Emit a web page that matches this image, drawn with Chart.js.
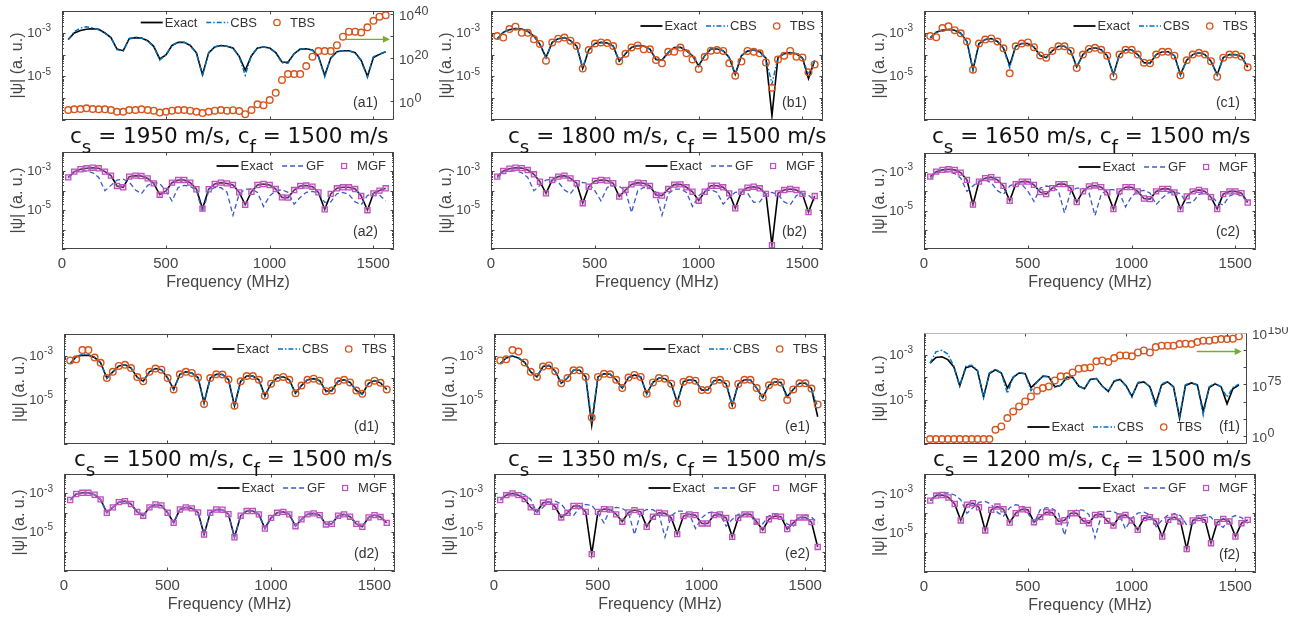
<!DOCTYPE html>
<html>
<head>
<meta charset="utf-8">
<title>|ψ| versus frequency</title>
<script src="https://cdn.jsdelivr.net/npm/chart.js@4.4.1/dist/chart.umd.min.js"></script>
<style>
  html, body { margin: 0; padding: 0; background: #fff; }
  body { position: relative; width: 1296px; height: 617px; overflow: hidden; font-family: "Liberation Sans", Arial, sans-serif; }
  canvas { position: absolute; }
  .case-title { position: absolute; font-family: "DejaVu Sans", sans-serif; font-size: 21.5px; line-height: 1; color: #111; white-space: nowrap; }
  .case-title sub { font-size: 0.85em; vertical-align: -0.52em; line-height: 0; }
</style>
</head>
<body>
<script>
// frequency samples (MHz)
const freq = [30, 59, 89, 118, 148, 177, 207, 236, 265, 295, 324, 354, 383, 413, 442, 471, 501, 530, 560, 589,
  618, 648, 677, 707, 736, 766, 795, 824, 854, 883, 913, 942, 971, 1001, 1030, 1060, 1089, 1119, 1148, 1177,
  1207, 1236, 1266, 1295, 1325, 1354, 1383, 1413, 1442, 1472, 1501, 1530, 1560];
const xTicks = [0, 500, 1000, 1500];
const leftExpLabels = [-3, -5];
const solidSpeed = [1950, 1800, 1650, 1500, 1350, 1200];
const fluidSpeed = 1500;

// all values below are log10(|psi|)
// case a : cs = 1950
const exactA = [-3.31, -3.01, -2.89, -2.84, -2.81, -2.84, -3.01, -3.22, -3.75, -3.82, -3.27, -3.22, -3.24, -3.36, -3.62, -4.2, -4.01, -3.58, -3.44, -3.44,
  -3.58, -3.92, -4.92, -3.92, -3.65, -3.58, -3.62, -3.70, -4.08, -4.72, -4.05, -3.70, -3.65, -3.70, -3.91, -4.34, -4.35, -3.96, -3.75, -3.73,
  -3.79, -4.08, -4.96, -4.16, -3.87, -3.82, -3.82, -3.91, -4.27, -5.0, -4.13, -3.99, -3.87];
const cbsA = [-3.31, -2.95, -2.78, -2.72, -2.78, -2.86, -3.02, -3.22, -3.77, -3.84, -3.26, -3.2, -3.24, -3.38, -3.62, -4.25, -4.0, -3.57, -3.43, -3.44,
  -3.58, -3.95, -4.98, -3.9, -3.64, -3.58, -3.62, -3.71, -4.1, -4.95, -4.03, -3.7, -3.65, -3.7, -3.93, -4.38, -4.4, -3.95, -3.75, -3.72,
  -3.8, -4.1, -5.02, -4.14, -3.86, -3.82, -3.83, -3.93, -4.3, -5.05, -4.1, -3.97, -3.87];
// TBS of case a is read on the right axis
const tbsA = [-4.1, -3.8, -3.65, -3.3, -3.65, -3.8, -3.8, -4.1, -4.9, -4.9, -4.1, -4.1, -3.8, -4.1, -4.4, -5.3, -4.9, -4.4, -4.1, -4.1,
  -4.4, -4.9, -5.5, -4.9, -4.4, -4.1, -4.4, -4.2, -4.6, -6.0, -4.1, -1.5, -1.9, 0.5, 3.8, 9.7, 12.4, 12.4, 12.4, 16.1,
  20.4, 23, 23, 23, 25.7, 29.6, 31.9, 31.9, 31.5, 33.9, 36.9, 38.8, 39.5];

// case b : cs = 1800
const exactB = [-3.27, -2.98, -2.86, -2.81, -2.83, -2.93, -3.15, -3.53, -4.13, -3.44, -3.27, -3.22, -3.36, -3.61, -4.64, -3.79, -3.49, -3.44, -3.47, -3.61,
  -4.30, -3.96, -3.67, -3.58, -3.61, -3.75, -4.22, -4.25, -3.91, -3.68, -3.67, -3.82, -4.05, -4.51, -4.05, -3.74, -3.74, -3.82, -4.13, -4.90,
  -4.05, -3.84, -3.79, -3.87, -4.16, -6.8, -4.13, -3.96, -3.91, -3.96, -4.16, -5.1, -4.27];
const cbsB = [-3.27, -2.97, -2.84, -2.8, -2.83, -2.93, -3.16, -3.55, -4.15, -3.44, -3.27, -3.22, -3.36, -3.62, -4.6, -3.79, -3.49, -3.44, -3.47, -3.62,
  -4.32, -3.95, -3.67, -3.58, -3.61, -3.76, -4.22, -4.27, -3.9, -3.68, -3.67, -3.82, -4.07, -4.55, -4.04, -3.74, -3.74, -3.83, -4.15, -4.93,
  -4.05, -3.84, -3.79, -3.88, -4.18, -5.35, -4.12, -3.96, -3.91, -3.97, -4.18, -4.9, -4.27];
const tbsB = [-3.15, -3.22, -2.83, -2.72, -3.0, -3.0, -3.3, -3.51, -4.28, -3.44, -3.27, -3.22, -3.36, -3.61, -4.64, -3.79, -3.49, -3.44, -3.47, -3.61,
  -4.30, -3.96, -3.67, -3.58, -3.76, -3.76, -4.25, -4.40, -3.87, -3.87, -3.68, -3.94, -4.22, -4.66, -4.10, -3.82, -3.79, -3.83, -4.40, -4.97,
  -4.32, -3.83, -3.87, -3.94, -4.36, -5.52, -4.22, -4.05, -3.83, -4.10, -4.13, -4.81, -4.45];

// case c : cs = 1650
const exactC = [-3.23, -2.97, -2.88, -2.85, -2.88, -3.02, -3.40, -4.69, -3.49, -3.31, -3.26, -3.40, -3.71, -4.49, -3.62, -3.49, -3.49, -3.66, -4.04, -4.14,
  -3.83, -3.62, -3.62, -3.83, -4.56, -4.0, -3.74, -3.69, -3.78, -4.05, -4.92, -4.0, -3.78, -3.78, -4.0, -4.37, -4.40, -4.0, -3.87, -3.87,
  -4.05, -4.92, -4.26, -4.0, -3.92, -4.0, -4.30, -4.92, -4.14, -4.0, -4.0, -4.09, -4.58];
const cbsC = [-3.23, -2.97, -2.86, -2.84, -2.88, -3.02, -3.42, -4.72, -3.49, -3.31, -3.26, -3.40, -3.72, -4.6, -3.62, -3.49, -3.49, -3.66, -4.05, -4.14,
  -3.83, -3.62, -3.62, -3.84, -4.6, -4.0, -3.74, -3.69, -3.78, -4.06, -4.95, -4.0, -3.78, -3.78, -4.0, -4.38, -4.40, -4.0, -3.87, -3.87,
  -4.05, -4.95, -4.26, -4.0, -3.92, -4.0, -4.31, -4.95, -4.14, -4.0, -4.0, -4.09, -4.6];
const tbsC = [-3.15, -3.2, -2.78, -2.70, -2.88, -3.02, -3.40, -4.69, -3.49, -3.31, -3.26, -3.40, -3.71, -4.86, -3.62, -3.49, -3.44, -3.66, -4.04, -4.14,
  -3.83, -3.62, -3.62, -3.83, -4.62, -4.0, -3.74, -3.69, -3.78, -4.05, -5.0, -4.0, -3.78, -3.78, -4.0, -4.37, -4.40, -4.0, -3.87, -3.87,
  -4.05, -4.95, -4.26, -4.0, -3.92, -4.0, -4.30, -5.02, -4.14, -4.0, -4.0, -4.09, -4.58];

// case d : cs = cf = 1500 (also the plain Green's function curve)
const exactD = [-3.34, -3.03, -2.97, -2.97, -3.07, -3.31, -4.0, -3.72, -3.45, -3.40, -3.55, -3.96, -4.15, -3.72, -3.57, -3.62, -4.0, -4.52, -3.83, -3.72,
  -3.77, -3.98, -5.12, -4.0, -3.83, -3.84, -4.07, -5.26, -4.15, -3.91, -3.91, -4.08, -4.81, -4.26, -4.0, -3.95, -4.08, -4.69, -4.34, -4.08,
  -4.03, -4.12, -4.60, -4.57, -4.15, -4.08, -4.2, -4.57, -4.72, -4.24, -4.12, -4.22, -4.52];
const cbsD = [-3.34, -3.02, -2.92, -2.93, -3.07, -3.31, -4.02, -3.72, -3.45, -3.40, -3.55, -3.97, -4.16, -3.72, -3.57, -3.62, -4.02, -4.55, -3.83, -3.72,
  -3.77, -3.99, -5.15, -4.0, -3.83, -3.84, -4.08, -5.28, -4.15, -3.91, -3.91, -4.09, -4.85, -4.26, -4.0, -3.95, -4.09, -4.72, -4.34, -4.08,
  -4.03, -4.13, -4.63, -4.6, -4.15, -4.08, -4.21, -4.6, -4.75, -4.24, -4.12, -4.22, -4.52];
const tbsD = [-3.2, -3.15, -2.73, -2.73, -3.07, -3.31, -4.0, -3.72, -3.45, -3.40, -3.55, -3.96, -4.15, -3.72, -3.57, -3.62, -4.0, -4.52, -3.83, -3.72,
  -3.77, -3.98, -5.18, -4.0, -3.83, -3.84, -4.07, -5.26, -4.15, -3.91, -3.91, -4.08, -4.81, -4.26, -4.0, -3.95, -4.08, -4.69, -4.34, -4.08,
  -4.03, -4.12, -4.60, -4.57, -4.15, -4.08, -4.2, -4.57, -4.72, -4.24, -4.12, -4.22, -4.52];

// case e : cs = 1350
const exactE = [-3.34, -3.09, -3.0, -3.09, -3.29, -3.72, -3.95, -3.48, -3.43, -3.69, -4.24, -4.0, -3.65, -3.65, -3.95, -6.13, -3.95, -3.81, -3.83, -4.08,
  -4.46, -3.98, -3.86, -3.95, -4.72, -4.20, -4.0, -4.03, -4.26, -5.10, -4.17, -4.08, -4.12, -4.55, -4.55, -4.12, -4.08, -4.27, -5.24, -4.27,
  -4.08, -4.08, -4.46, -4.89, -4.33, -4.17, -4.2, -4.84, -4.52, -4.24, -4.24, -4.48, -5.76];
const cbsE = [-3.34, -3.08, -2.98, -3.08, -3.29, -3.72, -3.96, -3.48, -3.43, -3.7, -4.26, -4.0, -3.65, -3.65, -3.96, -5.9, -3.95, -3.81, -3.83, -4.09,
  -4.48, -3.98, -3.86, -3.95, -4.75, -4.20, -4.0, -4.03, -4.27, -5.12, -4.17, -4.08, -4.12, -4.56, -4.56, -4.12, -4.08, -4.28, -5.26, -4.27,
  -4.08, -4.08, -4.47, -4.9, -4.33, -4.17, -4.21, -4.95, -4.5, -4.24, -4.22, -4.5, -5.3];
const tbsE = [-3.2, -3.15, -2.73, -2.8, -3.29, -3.72, -3.95, -3.48, -3.43, -3.69, -4.24, -4.0, -3.65, -3.65, -3.95, -5.8, -3.95, -3.81, -3.83, -4.08,
  -4.46, -3.98, -3.86, -3.95, -4.72, -4.20, -4.0, -4.03, -4.26, -5.15, -4.17, -4.08, -4.12, -4.55, -4.55, -4.12, -4.08, -4.27, -5.24, -4.27,
  -4.08, -4.08, -4.46, -4.89, -4.33, -4.17, -4.2, -5.0, -4.52, -4.24, -4.24, -4.48, -5.2];

// case f : cs = 1200
const exactF = [-3.36, -3.10, -3.07, -3.20, -3.53, -4.37, -3.56, -3.49, -3.70, -4.88, -3.83, -3.66, -3.80, -4.48, -4.0, -3.80, -3.83, -4.46, -4.20, -3.95,
  -3.97, -4.42, -4.36, -4.0, -4.0, -4.39, -4.51, -4.09, -4.05, -4.39, -4.63, -4.17, -4.09, -4.37, -4.85, -4.25, -4.20, -4.42, -5.19, -4.34,
  -4.20, -4.42, -5.83, -4.37, -4.25, -4.34, -5.53, -4.46, -4.29, -4.42, -5.19, -4.51, -4.34];
const cbsF = [-3.36, -2.85, -2.78, -2.95, -3.5, -4.4, -3.5, -3.45, -3.68, -4.92, -3.8, -3.62, -3.8, -4.72, -3.98, -3.78, -3.83, -4.6, -4.2, -3.93,
  -3.97, -4.45, -4.36, -3.98, -4.0, -4.4, -4.51, -4.07, -4.05, -4.4, -4.63, -4.15, -4.07, -4.4, -4.9, -4.22, -4.18, -4.45, -5.35, -4.3,
  -4.18, -4.45, -5.75, -4.33, -4.22, -4.35, -5.7, -4.42, -4.27, -4.42, -4.9, -4.45, -4.3];
// TBS of case f is read on the right axis
const tbsF = [-4.7, -4.7, -4.7, -4.7, -4.7, -4.7, -4.7, -4.7, -4.7, -4.7, -4.7, 8.8, 13.7, 25.9, 35.6, 42.9, 50.2, 57.5, 65.8, 69.7,
  72.1, 80.8, 86.7, 86.7, 92.5, 97.9, 98.9, 99.8, 108.6, 110, 107.6, 113.5, 117.3, 117.3, 115.9, 121.7, 124.6, 121.7, 129.5, 131.5,
  131.5, 131.5, 133.9, 134.4, 133.9, 136.8, 138.8, 138.8, 140.2, 141.2, 141.2, 141.7, 145.1];

// GF does not depend on cs: it is the homogeneous curve in every lower panel
const gfAll = exactD;

const caseData = [
  {id: 'a', exact: exactA, cbs: cbsA, tbs: tbsA},
  {id: 'b', exact: exactB, cbs: cbsB, tbs: tbsB},
  {id: 'c', exact: exactC, cbs: cbsC, tbs: tbsC},
  {id: 'd', exact: exactD, cbs: cbsD, tbs: tbsD},
  {id: 'e', exact: exactE, cbs: cbsE, tbs: tbsE},
  {id: 'f', exact: exactF, cbs: cbsF, tbs: tbsF}
];

// layout (page pixels) : plot boxes [left, top, right, bottom] and title origin
const layout = {
  a: {upper: [62, 11, 394, 120], lower: [62, 152, 394, 249], title: [70, 124.5], legend: 'center',
      right: {min: -8.7, max: 41.4, labels: [0, 20, 40], ticks: [0, 10, 20, 30, 40]}, arrow: [1364, 1580, -3.3]},
  b: {upper: [491, 11, 823, 120], lower: [491, 152, 823, 249], title: [508, 124.5]},
  c: {upper: [924, 11, 1256, 120], lower: [924, 153, 1256, 249], title: [932, 124.5]},
  d: {upper: [64, 334, 395, 444], lower: [64, 474, 395, 571], title: [74, 447.8]},
  e: {upper: [494, 334, 826, 444], lower: [494, 474, 826, 571], title: [508, 447.8]},
  f: {upper: [924, 333, 1247, 444], lower: [924, 474, 1256, 572], title: [933, 447.8], legend: 'bottom',
      right: {min: -12, max: 150, labels: [0, 75, 150], ticks: [0, 25, 50, 75, 100, 125, 150]}, arrow: [1351, 1574, -2.83], lightTop: true}
};

const ink = '#454545';
const FONT = '"Liberation Sans", Arial, sans-serif';
const colExact = '#000000', colCBS = '#0072BD', colTBS = '#D95319', colGF = '#3B5BC4', colMGF = '#C04FC0';

function pts(vals) {
  return vals.map((v, i) => ({x: freq[i], y: v}));
}

function drawPow(ctx, exp, x, y, side, big) {
  const baseSize = big ? 13.5 : 13;
  const expSize = big ? 12.5 : 10;
  ctx.font = baseSize + 'px ' + FONT;
  const wb = ctx.measureText('10').width;
  ctx.font = expSize + 'px ' + FONT;
  const we = ctx.measureText(exp).width;
  const x0 = side === 'left' ? x - wb - we - 0.5 : x;
  ctx.textAlign = 'left';
  ctx.textBaseline = 'middle';
  ctx.fillStyle = ink;
  ctx.font = baseSize + 'px ' + FONT;
  ctx.fillText('10', x0, side === 'left' ? y + 0.5 : y + 2.5);
  ctx.font = expSize + 'px ' + FONT;
  ctx.fillText(exp, x0 + wb + 0.5, side === 'left' ? y - 4.5 : y - 2.5);
}

function seg(ctx, x0, y0, x1, y1) {
  ctx.beginPath();
  ctx.moveTo(x0, y0);
  ctx.lineTo(x1, y1);
  ctx.stroke();
}

function drawIcon(ctx, it, x, y) {
  ctx.save();
  if (it.kind === 'line') {
    ctx.strokeStyle = it.color;
    ctx.lineWidth = it.width;
    ctx.setLineDash(it.dash || []);
    seg(ctx, x, y, x + 22, y);
  } else if (it.kind === 'circle') {
    ctx.strokeStyle = it.color;
    ctx.lineWidth = 1.3;
    ctx.beginPath();
    ctx.arc(x + 11, y, 3.2, 0, Math.PI * 2);
    ctx.stroke();
  } else {
    ctx.strokeStyle = it.color;
    ctx.lineWidth = 1.2;
    ctx.strokeRect(x + 8.5, y - 2.5, 5, 5);
  }
  ctx.restore();
}

const decor = {
  id: 'decor',
  afterDatasetsDraw(chart, args, o) {
    const {ctx, chartArea: a, scales} = chart;
    const x = scales.x, y = scales.y, y2 = scales.y2;
    ctx.save();
    ctx.strokeStyle = ink;
    ctx.lineWidth = 1;
    // inward ticks
    xTicks.forEach(v => {
      const px = Math.round(x.getPixelForValue(v)) + 0.5;
      seg(ctx, px, a.bottom, px, a.bottom - 3.5);
      seg(ctx, px, a.top, px, a.top + 3.5);
    });
    for (let d = -7; d <= -2; d++) {
      const py = Math.round(y.getPixelForValue(d)) + 0.5;
      seg(ctx, a.left, py, a.left + 3.5, py);
      if (!y2) seg(ctx, a.right, py, a.right - 3.5, py);
      if (d === -2) continue;
      for (let m = 2; m <= 9; m++) {
        const pm = Math.round(y.getPixelForValue(d + Math.log10(m))) + 0.5;
        seg(ctx, a.left, pm, a.left + 2, pm);
        if (!y2) seg(ctx, a.right, pm, a.right - 2, pm);
      }
    }
    if (y2) {
      o.right.ticks.forEach(v => {
        const py = Math.round(y2.getPixelForValue(v)) + 0.5;
        seg(ctx, a.right, py, a.right - 3.5, py);
      });
    }
    // box
    const l = a.left + 0.5, r = a.right - 0.5, t = a.top + 0.5, b = a.bottom - 0.5;
    seg(ctx, l, t, l, b);
    seg(ctx, r, t, r, b);
    seg(ctx, l, b, r, b);
    ctx.strokeStyle = o.lightTop ? '#b8b8b8' : ink;
    seg(ctx, l, t, r, t);

    // axis tick labels with exponents
    leftExpLabels.forEach(e => drawPow(ctx, String(e), a.left - 11, y.getPixelForValue(e), 'left', false));
    if (y2) o.right.labels.forEach(e => drawPow(ctx, String(e), a.right + 5, y2.getPixelForValue(e), 'right', true));

    // legend
    ctx.font = '13px ' + FONT;
    const widths = o.items.map(it => 22 + 2 + ctx.measureText(it.label).width);
    const total = widths.reduce((s, w) => s + w, 0) + 9 * (o.items.length - 1);
    let lx, ly;
    if (o.legend === 'center') {
      lx = (a.left + a.right) / 2 - total / 2;
      ly = a.top + 11.5;
    } else if (o.legend === 'bottom') {
      lx = a.right - 45 - total;
      ly = a.bottom - 17;
    } else {
      lx = a.right - 8 - total;
      ly = a.top + (o.lower ? 14 : 15);
    }
    o.items.forEach((it, i) => {
      drawIcon(ctx, it, lx, ly);
      ctx.fillStyle = '#333';
      ctx.textAlign = 'left';
      ctx.textBaseline = 'middle';
      ctx.font = '13px ' + FONT;
      ctx.fillText(it.label, lx + 24, ly + 0.5);
      lx += widths[i] + 9;
    });

    // panel tag
    ctx.font = '14px ' + FONT;
    ctx.fillStyle = '#333';
    ctx.textAlign = 'right';
    ctx.textBaseline = 'middle';
    if (o.legend === 'bottom') ctx.fillText(o.tag, a.right - 7, a.bottom - 17);
    else ctx.fillText(o.tag, a.right - 16, a.bottom - 17);

    // arrow pointing to the right axis
    if (o.arrow) {
      const ax0 = x.getPixelForValue(o.arrow[0]);
      const ax1 = x.getPixelForValue(o.arrow[1]);
      const ay = y.getPixelForValue(o.arrow[2]);
      ctx.strokeStyle = '#77AC30';
      ctx.fillStyle = '#77AC30';
      ctx.lineWidth = 1.4;
      seg(ctx, ax0, ay, ax1 - 5, ay);
      ctx.beginPath();
      ctx.moveTo(ax1, ay);
      ctx.lineTo(ax1 - 7, ay - 3.5);
      ctx.lineTo(ax1 - 7, ay + 3.5);
      ctx.closePath();
      ctx.fill();
    }
    ctx.restore();
  }
};

function makePanel(c, lay, lower) {
  const box = lower ? lay.lower : lay.upper;
  const [L, T, R, B] = box;
  const right = !lower && lay.right ? lay.right : null;
  const rm = right ? 48 : 8;
  const bm = lower ? 48 : 6;
  const w = (R - L) + 62 + rm;
  const h = (B - T) + 6 + bm;
  const cv = document.createElement('canvas');
  cv.width = w;
  cv.height = h;
  cv.style.left = (L - 62) + 'px';
  cv.style.top = (T - 6) + 'px';
  cv.style.width = w + 'px';
  cv.style.height = h + 'px';
  document.body.appendChild(cv);

  const exactSet = {label: 'Exact', data: pts(c.exact), borderColor: colExact, borderWidth: 1.6,
    pointRadius: 0, tension: 0, order: 3, yAxisID: 'y'};
  let datasets, items;
  if (!lower) {
    datasets = [
      exactSet,
      {label: 'CBS', data: pts(c.cbs), borderColor: colCBS, borderWidth: 1.4, borderDash: [5, 2, 1.5, 2],
        pointRadius: 0, tension: 0, order: 2, yAxisID: 'y'},
      {label: 'TBS', data: pts(c.tbs), showLine: false, pointStyle: 'circle', pointRadius: 3.3,
        pointBorderWidth: 1.4, pointBorderColor: colTBS, pointBackgroundColor: 'rgba(0,0,0,0)',
        order: 1, yAxisID: right ? 'y2' : 'y'}
    ];
    items = [
      {label: 'Exact', kind: 'line', color: colExact, width: 1.8},
      {label: 'CBS', kind: 'line', color: colCBS, width: 1.4, dash: [5, 2, 1.5, 2]},
      {label: 'TBS', kind: 'circle', color: colTBS}
    ];
  } else {
    datasets = [
      exactSet,
      {label: 'GF', data: pts(gfAll), borderColor: colGF, borderWidth: 1.3, borderDash: [5, 3],
        pointRadius: 0, tension: 0, order: 2, yAxisID: 'y'},
      {label: 'MGF', data: pts(c.exact), showLine: false, pointStyle: 'rect', pointRadius: 3.6,
        pointBorderWidth: 1.3, pointBorderColor: colMGF, pointBackgroundColor: 'rgba(225,170,225,0.35)',
        order: 1, yAxisID: 'y'}
    ];
    items = [
      {label: 'Exact', kind: 'line', color: colExact, width: 1.8},
      {label: 'GF', kind: 'line', color: colGF, width: 1.4, dash: [5, 3]},
      {label: 'MGF', kind: 'rect', color: colMGF}
    ];
  }

  const scales = {
    x: {
      type: 'linear', min: 0, max: 1600, position: 'bottom',
      grid: {display: false, drawTicks: false}, border: {display: false},
      afterBuildTicks: s => { s.ticks = xTicks.map(v => ({value: v})); },
      afterFit: s => { s.height = lower ? 48 : 0; },
      ticks: {display: lower, color: ink, font: {family: FONT, size: 15}, padding: 5.5, maxRotation: 0,
        callback: v => String(v)},
      title: {display: lower, text: 'Frequency (MHz)', color: ink, font: {family: FONT, size: 16},
        padding: {top: 0, bottom: 4.8}}
    },
    y: {
      type: 'linear', min: -7, max: -2, position: 'left',
      grid: {display: false}, border: {display: false},
      ticks: {display: false},
      afterFit: s => { s.width = 62; },
      title: {display: true, text: '|ψ| (a. u.)', color: ink, font: {family: FONT, size: 16},
        padding: {top: 8, bottom: 0}}
    }
  };
  if (right) {
    scales.y2 = {
      type: 'linear', min: right.min, max: right.max, position: 'right',
      grid: {display: false}, border: {display: false}, ticks: {display: false},
      afterFit: s => { s.width = rm; }
    };
  }

  new Chart(cv.getContext('2d'), {
    type: 'line',
    data: {datasets},
    options: {
      responsive: false, animation: false, devicePixelRatio: 1, events: [],
      layout: {padding: {left: 0, top: 6, right: right ? 0 : rm, bottom: lower ? 0 : 6}},
      scales,
      plugins: {
        legend: {display: false},
        tooltip: {enabled: false},
        decor: {
          items, lower, right,
          legend: lower ? 'right' : (lay.legend || 'right'),
          tag: '(' + c.id + (lower ? '2' : '1') + ')',
          arrow: right ? lay.arrow : null,
          lightTop: !lower && lay.lightTop
        }
      }
    },
    plugins: [decor]
  });
}

caseData.forEach((c, i) => {
  const lay = layout[c.id];
  makePanel(c, lay, false);
  makePanel(c, lay, true);
  const t = document.createElement('div');
  t.className = 'case-title';
  t.style.left = lay.title[0] + 'px';
  t.style.top = lay.title[1] + 'px';
  t.innerHTML = 'c<sub>s</sub> = ' + solidSpeed[i] + ' m/s, c<sub>f</sub> = ' + fluidSpeed + ' m/s';
  document.body.appendChild(t);
});
</script>
</body>
</html>
